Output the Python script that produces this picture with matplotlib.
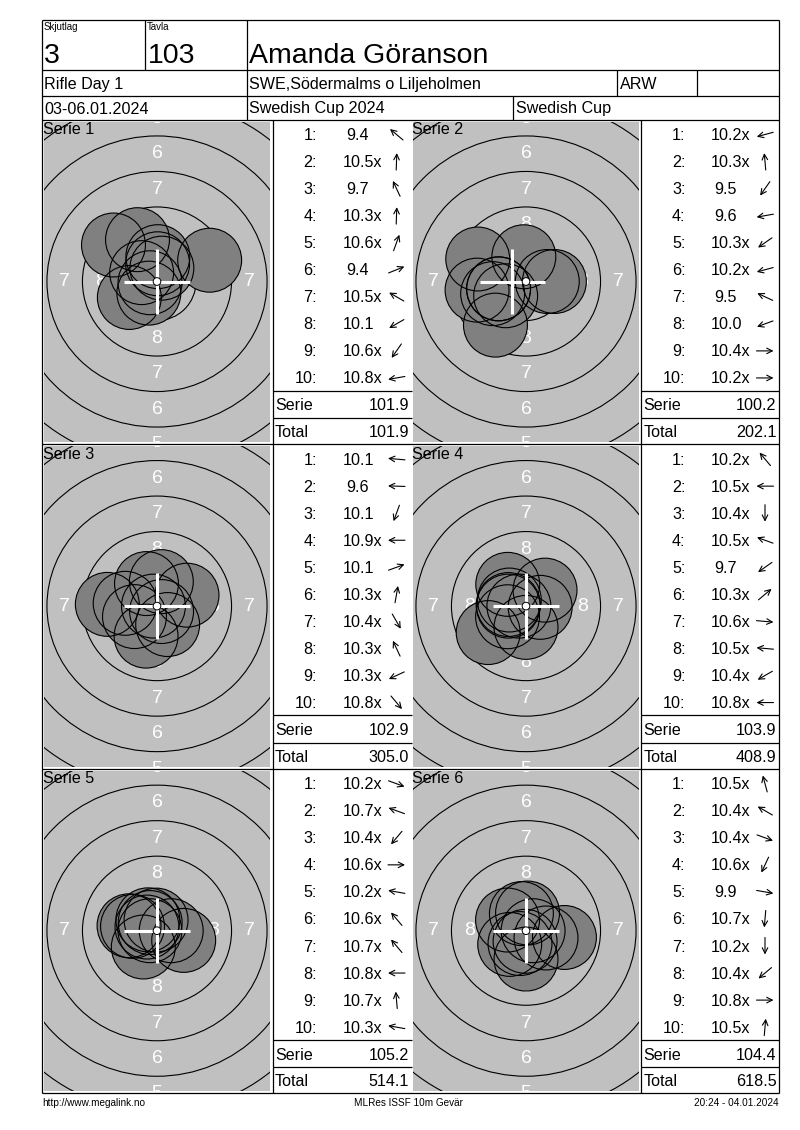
import numpy as np
import matplotlib
matplotlib.use("Agg")
import matplotlib.pyplot as plt
from matplotlib.patches import Circle

plt.rcParams['font.family'] = ['Liberation Sans', 'DejaVu Sans']

# ── 头部信息 ──────────────────────────────────────────────
relay_label, relay = "Skjutlag", "3"
board_label, board = "Tavla", "103"
shooter = "Amanda Göranson"
event = "Rifle Day 1"
club = "SWE,Södermalms o Liljeholmen"
shooter_class = "ARW"
dates = "03-06.01.2024"
competition = "Swedish Cup 2024"
cup = "Swedish Cup"
footer_left = "http://www.megalink.no"
footer_mid = "MLRes ISSF 10m Gevär"
footer_right = "20:24 - 04.01.2024"

# ── 每组成绩（字符串保留 x 标记）及方向箭头角度（度，0=右，90=上）──
serie1_scores = ["9.4", "10.5x", "9.7", "10.3x", "10.6x", "9.4", "10.5x", "10.1", "10.6x", "10.8x"]
serie1_angles = [140, 88, 115, 88, 70, 22, 150, 210, 235, 190]
serie2_scores = ["10.2x", "10.3x", "9.5", "9.6", "10.3x", "10.2x", "9.5", "10.0", "10.4x", "10.2x"]
serie2_angles = [195, 95, 235, 190, 215, 195, 155, 200, 0, 0]
serie3_scores = ["10.1", "9.6", "10.1", "10.9x", "10.1", "10.3x", "10.4x", "10.3x", "10.3x", "10.8x"]
serie3_angles = [175, 178, 250, 180, 20, 80, 300, 115, 205, 310]
serie4_scores = ["10.2x", "10.5x", "10.4x", "10.5x", "9.7", "10.3x", "10.6x", "10.5x", "10.4x", "10.8x"]
serie4_angles = [130, 180, 270, 160, 215, 40, 355, 175, 210, 180]
serie5_scores = ["10.2x", "10.7x", "10.4x", "10.6x", "10.2x", "10.6x", "10.7x", "10.8x", "10.7x", "10.3x"]
serie5_angles = [340, 160, 230, 0, 170, 130, 130, 180, 95, 170]
serie6_scores = ["10.5x", "10.4x", "10.4x", "10.6x", "9.9", "10.7x", "10.2x", "10.4x", "10.8x", "10.5x"]
serie6_angles = [105, 150, 340, 245, 350, 265, 270, 220, 0, 85]

serie_sums = ["101.9", "100.2", "102.9", "103.9", "105.2", "104.4"]
running_totals = ["101.9", "202.1", "305.0", "408.9", "514.1", "618.5"]

# 十字准星偏移（mm，从图上读出）
cross_dx = [0.0, -0.96, 0.0, 0.0, 0.0, 0.0]
cross_dy = [0.0, 0.0, 0.0, 0.0, 0.0, 0.0]

all_scores = [serie1_scores, serie2_scores, serie3_scores, serie4_scores, serie5_scores, serie6_scores]
all_angles = [serie1_angles, serie2_angles, serie3_angles, serie4_angles, serie5_angles, serie6_angles]

# ── 版面（像素）────────────────────────────────────────────
W, H = 800, 1130
K = 14.2            # px / mm
PELLET_R = 2.25     # mm
LEFT, RIGHT = 42, 779
PANEL_TOP, PANEL_H = 119.5, 324.6
COL_X = [(44, 270), (413, 639)]       # 靶面区域
TABLE_X = [(272.5, 411.5), (641, 779)]  # 成绩表区域
BG = "#c0c0c0"
SHOT = "#808080"
FS = 11.6

fig = plt.figure(figsize=(W / 100, H / 100), dpi=100)


def frac(x0, y0, x1, y1):
    return [x0 / W, 1 - y1 / H, (x1 - x0) / W, (y1 - y0) / H]


def draw_target(i):
    row, col = divmod(i, 2)
    T = PANEL_TOP + row * PANEL_H
    x0, x1 = COL_X[col]
    y0, y1 = T + 2, T + PANEL_H - 2
    cx, cy = (x0 + x1) / 2, T + 162
    xl, xr = -(cx - x0) / K, (x1 - cx) / K
    yb, yt = -(y1 - cy) / K, (cy - y0) / K
    ax = fig.add_axes(frac(x0, y0, x1, y1))
    ax.set_xlim(xl, xr)
    ax.set_ylim(yb, yt)
    ax.set_facecolor(BG)
    ax.set_xticks([]); ax.set_yticks([])
    for s in ax.spines.values():
        s.set_visible(False)

    # 环线
    for k in range(3, 10):
        r = 0.25 + (10 - k) * 2.5
        ax.add_patch(Circle((0, 0), r, fill=False, ec="black", lw=0.8, zorder=1))
    # 环数字（只画落在靶面内的）
    for k in range(5, 9):
        rm = 0.25 + (10 - k) * 2.5 - 1.25
        for dx, dy in [(0, rm), (0, -rm), (rm, 0), (-rm, 0)]:
            if xl - 0.3 < dx < xr + 0.3 and yb - 0.6 < dy < yt + 0.6:
                ax.text(dx, dy, str(k), color="white", fontsize=14, ha="center",
                        va="center", zorder=2, clip_on=True)

    # 弹孔：由成绩换算距离，方向取自箭头
    vals = np.array([float(s.rstrip("x")) for s in all_scores[i]])
    ang = np.radians(all_angles[i])
    d = (11 - vals) * 2.5
    xs, ys = d * np.cos(ang), d * np.sin(ang)
    for x, y in zip(xs, ys):
        ax.add_patch(Circle((x, y), PELLET_R, fc=SHOT, ec="none", zorder=3))
    for x, y in zip(xs, ys):
        ax.add_patch(Circle((x, y), PELLET_R, fill=False, ec="black", lw=0.8, zorder=4))

    mx, my = cross_dx[i], cross_dy[i]
    arm = 2.3
    ax.plot([mx - arm, mx + arm], [my, my], color="white", lw=2.2, zorder=5, solid_capstyle="butt")
    ax.plot([mx, mx], [my - arm, my + arm], color="white", lw=2.2, zorder=5, solid_capstyle="butt")
    ax.add_patch(Circle((0, 0), 0.27, fc="white", ec="black", lw=0.7, zorder=6))
    ax.text(xl - 0.05, (cy - T - 14.5) / K, f"Serie {i + 1}", fontsize=FS,
            ha="left", va="baseline", zorder=7)


for i in range(6):
    draw_target(i)

# ── 覆盖层：表格线和文字 ───────────────────────────────────
page = fig.add_axes([0, 0, 1, 1], zorder=5)
page.set_xlim(0, W)
page.set_ylim(H, 0)
page.axis("off")
page.patch.set_visible(False)

LW = 0.9


def hline(y, xa, xb):
    page.plot([xa, xb], [y, y], color="black", lw=LW, solid_capstyle="butt")


def vline(x, ya, yb):
    page.plot([x, x], [ya, yb], color="black", lw=LW, solid_capstyle="butt")


BOTTOM = PANEL_TOP + 3 * PANEL_H
# 外框和表头
hline(20, LEFT, RIGHT)
hline(69.5, LEFT, RIGHT)
hline(95.5, LEFT, RIGHT)
vline(LEFT, 20, BOTTOM)
vline(RIGHT, 20, BOTTOM)
vline(144.5, 20, 69.5)
vline(246.5, 20, PANEL_TOP)
vline(617, 69.5, 95.5)
vline(697, 69.5, 95.5)
vline(513, 95.5, PANEL_TOP)
for r in range(4):
    hline(PANEL_TOP + r * PANEL_H, LEFT, RIGHT)
for xa, xb in TABLE_X:
    vline(xa, PANEL_TOP, BOTTOM)

page.text(44, 29.5, relay_label, fontsize=7, va="baseline")
page.text(147, 29.5, board_label, fontsize=7, va="baseline")
page.text(44, 63, relay, fontsize=20.5, va="baseline")
page.text(147.5, 63, board, fontsize=20.5, va="baseline")
page.text(249, 63, shooter, fontsize=20.5, va="baseline")
page.text(44, 89, event, fontsize=FS, va="baseline")
page.text(249, 89, club, fontsize=FS, va="baseline")
page.text(620, 89, shooter_class, fontsize=FS, va="baseline")
page.text(44, 113.5, dates, fontsize=FS, va="baseline")
page.text(249, 113.5, competition, fontsize=FS, va="baseline")
page.text(516, 113.5, cup, fontsize=FS, va="baseline")

# 成绩表
ARROW_L = 17
for i in range(6):
    row, col = divmod(i, 2)
    T = PANEL_TOP + row * PANEL_H
    xa, xb = TABLE_X[col]
    for j, (s, a) in enumerate(zip(all_scores[i], all_angles[i])):
        yb = T + 20.5 + 27.05 * j
        page.text(xa + 44.5, yb, f"{j + 1}:", fontsize=FS, ha="right", va="baseline")
        xs = xa + 70 + (3.5 if float(s.rstrip("x")) < 10 else 0)
        page.text(xs, yb, s, fontsize=FS, ha="left", va="baseline")
        acx, acy = xa + 124, yb - 5.5
        t = np.radians(a)
        dx, dy = ARROW_L / 2 * np.cos(t), -ARROW_L / 2 * np.sin(t)
        page.annotate("", xy=(acx + dx, acy + dy), xytext=(acx - dx, acy - dy),
                      arrowprops=dict(arrowstyle="->", lw=0.8, color="black",
                                      shrinkA=0, shrinkB=0, mutation_scale=10))
    hline(T + 271.2, xa, xb)
    hline(T + 298.5, xa, xb)
    page.text(xa + 2.5, T + 290.8, "Serie", fontsize=FS, va="baseline")
    page.text(xb - 2.5, T + 290.8, serie_sums[i], fontsize=FS, ha="right", va="baseline")
    page.text(xa + 2.5, T + 317.8, "Total", fontsize=FS, va="baseline")
    page.text(xb - 2.5, T + 317.8, running_totals[i], fontsize=FS, ha="right", va="baseline")

# 页脚
page.text(42, 1106, footer_left, fontsize=7.2, va="baseline")
page.text(408, 1106, footer_mid, fontsize=7.2, ha="center", va="baseline")
page.text(779, 1106, footer_right, fontsize=7.2, ha="right", va="baseline")

fig.savefig("out.png", dpi=100, facecolor="white")
